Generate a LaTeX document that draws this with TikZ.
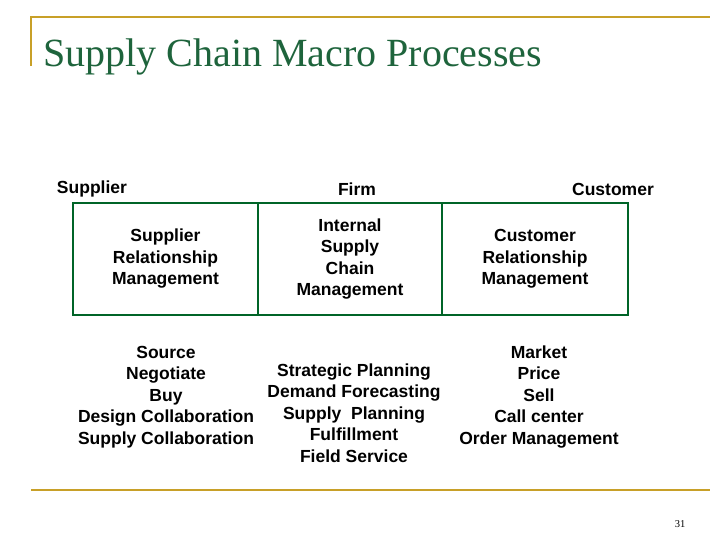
\documentclass[tikz,border=0pt]{standalone}
\usepackage{fontspec}
\setmainfont{Liberation Serif}
\setsansfont{Liberation Sans}
\usepackage{xcolor}
\usetikzlibrary{positioning}
\definecolor{gold}{RGB}{200,160,40}
\definecolor{titlegreen}{RGB}{30,100,60}
\definecolor{boxgreen}{RGB}{0,100,40}
\tikzset{
  lbl/.style={font=\sffamily\bfseries\fontsize{17.5}{21.5}\selectfont, align=center, inner sep=0pt},
  cell/.style={draw=boxgreen, line width=1.3pt, minimum height=112pt, inner sep=0pt}
}
\begin{document}
\begin{tikzpicture}[x=1pt, y=-1pt]
    \useasboundingbox (0,0) rectangle (728,546);
    % Frame
    \draw[gold, line width=1.5pt] (31,66) -- (31,17) -- (710,17);
    \draw[gold, line width=1.5pt] (31,490) -- (710,490);
    \node[anchor=base west, inner sep=0pt, text=titlegreen, font=\fontsize{40}{46}\selectfont] (title) at (43,66) {Supply Chain Macro Processes};
    \node[inner sep=0pt, font=\fontsize{10.5}{12}\selectfont] (page) at (680,524) {31};
    % Parties
    \node[lbl] (supplier) at (92,189) {Supplier};
    \node[lbl] (firm) at (357,189) {Firm};
    \node[lbl] (customer) at (613,189) {Customer};
    % Boxes
    \node[cell, minimum width=185pt] (srm) at (165.5,259) {};
    \node[cell, minimum width=184pt] (iscm) at (350,259) {};
    \node[cell, minimum width=186pt] (crm) at (535,259) {};
    \node[lbl] at (srm) {Supplier\\Relationship\\Management};
    \node[lbl] at (iscm) {Internal\\Supply\\Chain\\Management};
    \node[lbl] at (crm) {Customer\\Relationship\\Management};
    % Activities
    \node[lbl] (srmacts) at (166,397) {Source\\Negotiate\\Buy\\Design Collaboration\\Supply Collaboration};
    \node[lbl] (iscmacts) at (354,413) {Strategic Planning\\Demand Forecasting\\Supply\ \ Planning\\Fulfillment\\Field Service};
    \node[lbl] (crmacts) at (539,397) {Market\\Price\\Sell\\Call center\\Order Management};
\end{tikzpicture}
\end{document}
